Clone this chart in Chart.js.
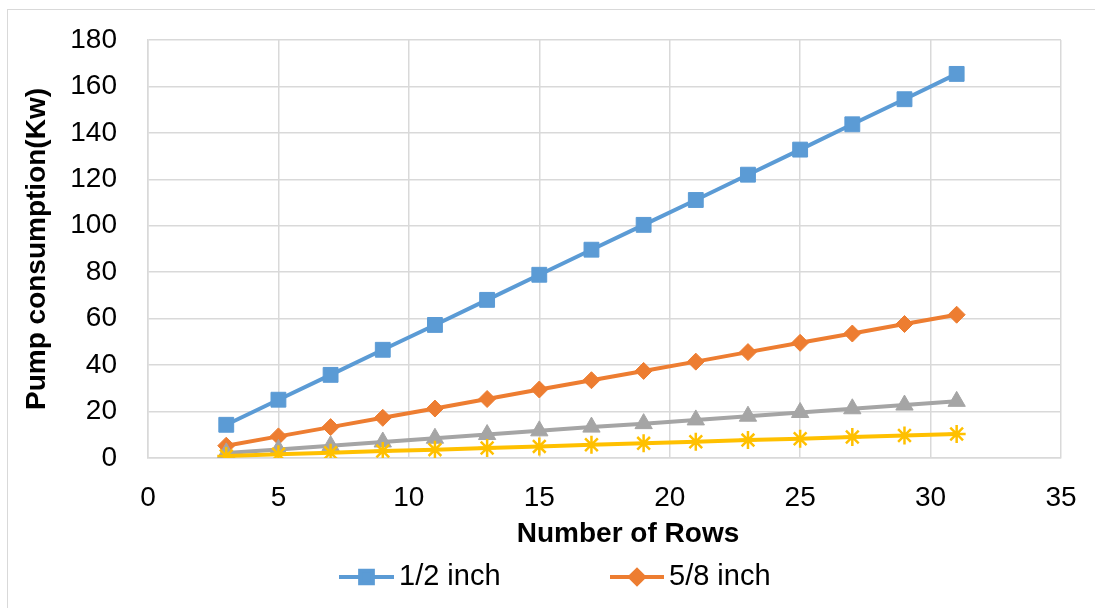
<!DOCTYPE html>
<html>
<head>
<meta charset="utf-8">
<title>Pump consumption</title>
<script src="https://cdn.jsdelivr.net/npm/chart.js@4.4.1/dist/chart.umd.min.js"></script>
<style>
    html, body { margin: 0; padding: 0; background: #ffffff; }
    #wrap { width: 1095px; height: 608px; }
</style>
</head>
<body>
<div id="wrap"><canvas id="chart" width="1095" height="608"></canvas></div>
<script>
    const FONT = "'Liberation Sans', Arial, sans-serif";
    const GRID_COLOR = "#d9d9d9";

    // Daten
    const rows = [3, 5, 7, 9, 11, 13, 15, 17, 19, 21, 23, 25, 27, 29, 31];
    const halfInch = [14.3, 25.1, 35.8, 46.6, 57.3, 68.1, 78.9, 89.7, 100.4, 111.1, 122.0, 132.8, 143.7, 154.5, 165.4];
    const fiveEighthInch = [5.3, 9.3, 13.3, 17.3, 21.3, 25.4, 29.5, 33.5, 37.5, 41.5, 45.6, 49.6, 53.6, 57.7, 61.7];
    const threeQuarterInch = [2.2, 3.7, 5.3, 6.9, 8.5, 10.1, 11.7, 13.3, 14.8, 16.4, 18.0, 19.6, 21.2, 22.8, 24.4];
    const oneInch = [0.9, 1.6, 2.3, 3.0, 3.6, 4.3, 5.0, 5.7, 6.3, 7.0, 7.7, 8.3, 9.0, 9.7, 10.3];

    const xTicks = [0, 5, 10, 15, 20, 25, 30, 35];
    const yTicks = [0, 20, 40, 60, 80, 100, 120, 140, 160, 180];
    const legendNames = ["1/2 inch", "5/8 inch"];

    function points(values) {
        return rows.map((r, i) => ({ x: r, y: values[i] }));
    }

    function series(label, values, color, style, radius, order) {
        return {
            label: label,
            data: points(values),
            borderColor: color,
            backgroundColor: color,
            borderWidth: 4,
            pointStyle: style,
            pointRadius: radius,
            pointHoverRadius: radius,
            pointBackgroundColor: color,
            pointBorderColor: color,
            pointBorderWidth: style === "star" ? 2.5 : 1,
            order: order
        };
    }

    // Rahmen, X-Titel und Legende
    const extrasPlugin = {
        id: "extras",
        beforeDraw(chart) {
            const ctx = chart.ctx;
            ctx.save();
            ctx.strokeStyle = GRID_COLOR;
            ctx.lineWidth = 1;
            ctx.strokeRect(7.5, 9.5, 1100, 610);
            ctx.restore();
        },
        afterDraw(chart) {
            const ctx = chart.ctx;
            ctx.save();
            ctx.fillStyle = "#000000";
            ctx.font = "bold 28px " + FONT;
            ctx.textAlign = "center";
            ctx.textBaseline = "middle";
            ctx.fillText("Number of Rows", 628, 534);

            const items = [
                { x0: 339, x1: 394, tx: 399, ds: chart.data.datasets[0] },
                { x0: 610, x1: 664, tx: 669, ds: chart.data.datasets[1] }
            ];
            const ly = 577;
            items.forEach((it, i) => {
                ctx.strokeStyle = it.ds.borderColor;
                ctx.lineWidth = 4;
                ctx.beginPath();
                ctx.moveTo(it.x0, ly);
                ctx.lineTo(it.x1, ly);
                ctx.stroke();
                ctx.fillStyle = it.ds.borderColor;
                Chart.helpers.drawPoint(ctx, {
                    pointStyle: it.ds.pointStyle,
                    radius: it.ds.pointStyle === "rect" ? 9 : 7,
                    borderWidth: 1
                }, (it.x0 + it.x1) / 2, ly);
                ctx.fillStyle = "#000000";
                ctx.font = "29px " + FONT;
                ctx.textAlign = "left";
                ctx.fillText(legendNames[i], it.tx, ly);
            });
            ctx.restore();
        }
    };

    new Chart(document.getElementById("chart").getContext("2d"), {
        type: "line",
        data: {
            datasets: [
                series(legendNames[0], halfInch, "#5b9bd5", "rect", 10.5, 4),
                series(legendNames[1], fiveEighthInch, "#ed7d31", "rectRot", 8.5, 3),
                series("3/4 inch", threeQuarterInch, "#a5a5a5", "triangle", 10, 2),
                series("1 inch", oneInch, "#ffc000", "star", 9, 1)
            ]
        },
        options: {
            responsive: false,
            devicePixelRatio: 1,
            animation: false,
            layout: {
                padding: { left: 0, right: 34, top: 40, bottom: 50 }
            },
            plugins: {
                legend: { display: false },
                tooltip: { enabled: false }
            },
            scales: {
                x: {
                    type: "linear",
                    min: xTicks[0],
                    max: xTicks[xTicks.length - 1],
                    afterBuildTicks: (scale) => { scale.ticks = xTicks.map(v => ({ value: v })); },
                    afterFit: (scale) => { scale.height = 100; },
                    // unsichtbare Tick-Striche als Abstand
                    grid: { color: GRID_COLOR, lineWidth: 1.5, drawTicks: true, tickLength: 23, tickColor: "rgba(0,0,0,0)" },
                    border: { color: GRID_COLOR, width: 1.5 },
                    ticks: {
                        padding: 0,
                        color: "#000000",
                        font: { family: FONT, size: 28 }
                    }
                },
                y: {
                    min: yTicks[0],
                    max: yTicks[yTicks.length - 1],
                    afterBuildTicks: (scale) => { scale.ticks = yTicks.map(v => ({ value: v })); },
                    afterFit: (scale) => { scale.width = 148; },
                    grid: { color: GRID_COLOR, lineWidth: 1.5, drawTicks: true, tickLength: 31, tickColor: "rgba(0,0,0,0)" },
                    border: { color: GRID_COLOR, width: 1.5 },
                    ticks: {
                        padding: 0,
                        color: "#000000",
                        font: { family: FONT, size: 28 }
                    },
                    title: {
                        display: true,
                        text: "Pump consumption(Kw)",
                        color: "#000000",
                        font: { family: FONT, size: 28, weight: "bold" },
                        padding: { top: 20, bottom: 0 }
                    }
                }
            }
        },
        plugins: [extrasPlugin]
    });
</script>
</body>
</html>
